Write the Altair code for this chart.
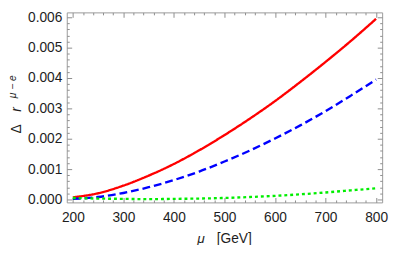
import altair as alt
import pandas as pd

# ---- data ----
mu = [200, 250, 300, 350, 400, 450, 500, 550, 600, 650, 700, 750, 800]
red_vals = [0.00007, 0.000205, 0.000456, 0.000785, 0.00117, 0.00162, 0.00212,
            0.00266, 0.00324, 0.00387, 0.00453, 0.00522, 0.00595]
blue_vals = [0.00002, 0.00008, 0.000214, 0.000403, 0.00064, 0.00092, 0.00125,
             0.00161, 0.00201, 0.00244, 0.00291, 0.00342, 0.00395]
green_vals = [0.00005, 0.00003, 0.00002, 0.00001, 0.00002, 0.00003, 0.00005,
              0.00008, 0.00012, 0.00017, 0.00023, 0.0003, 0.00037]

series_names = ["solid", "dashed", "dotted"]
series_colors = ["#ff0000", "#0000ff", "#00ee00"]
series_dash = [[1, 0], [8, 4], [3, 3]]

x_major = [200, 300, 400, 500, 600, 700, 800]
x_minor = [v for v in range(200, 801, 20) if v % 100 != 0]
y_major = [0.0, 0.001, 0.002, 0.003, 0.004, 0.005, 0.006]
y_minor = [round(i * 0.0002, 4) for i in range(1, 30) if i % 5 != 0]

x_title_sym = ["μ"]
x_title_unit = ["[GeV]"]
y_title_delta = ["Δ"]
y_title_r = ["r"]
y_title_sup = ["μ − e"]

X_DOM = [188, 812]
Y_DOM = [-0.0000968, 0.0061613]

rows = []
for name, vals in zip(series_names, [red_vals, blue_vals, green_vals]):
    for m, v in zip(mu, vals):
        rows.append({"mu": m, "val": v, "series": name})
df = pd.DataFrame(rows)

FONT = "Liberation Sans"
TICK_COLOR = "#8c8c8c"
LABEL_COLOR = "#1e1e1e"


def xenc(axis):
    return alt.X("mu:Q", scale=alt.Scale(domain=X_DOM, nice=False, zero=False), axis=axis)


def yenc(axis):
    return alt.Y("val:Q", scale=alt.Scale(domain=Y_DOM, nice=False, zero=False), axis=axis)


def ax(orient, values, size, labels=False, **kw):
    return alt.Axis(orient=orient, values=values, tickSize=size, offset=-size,
                    domain=False, grid=False, title=None, labels=labels,
                    tickColor=TICK_COLOR, tickWidth=1, **kw)


label_kw = dict(labelFont=FONT, labelFontSize=14, labelColor=LABEL_COLOR, labelFlush=False)

lines = alt.Chart(df).mark_line(strokeWidth=2.4, interpolate="monotone", strokeCap="butt").encode(
    x=xenc(ax("bottom", x_major, 5, labels=True, labelPadding=9, **label_kw)),
    y=yenc(ax("left", y_major, 5, labels=True, labelPadding=5, format=".3f", **label_kw)),
    color=alt.Color("series:N", scale=alt.Scale(domain=series_names, range=series_colors), legend=None),
    strokeDash=alt.StrokeDash("series:N", scale=alt.Scale(domain=series_names, range=series_dash), legend=None),
    detail="series:N",
)

minor = alt.Chart(df).mark_point(opacity=0).encode(
    x=xenc(ax("bottom", x_minor, 2.5)),
    y=yenc(ax("left", y_minor, 2.5)),
)
top_right_major = alt.Chart(df).mark_point(opacity=0).encode(
    x=xenc(ax("top", x_major, 5)),
    y=yenc(ax("right", y_major, 5)),
)
top_right_minor = alt.Chart(df).mark_point(opacity=0).encode(
    x=xenc(ax("top", x_minor, 2.5)),
    y=yenc(ax("right", y_minor, 2.5)),
)


def label(text_list, x, y, size=14, style="normal", angle=0):
    return alt.Chart(pd.DataFrame({"t": text_list})).mark_text(
        font=FONT, fontSize=size, fontStyle=style, color=LABEL_COLOR,
        align="center", baseline="middle", angle=angle,
    ).encode(text="t:N", x=alt.value(x), y=alt.value(y))


texts = [
    label(x_title_sym, 137, 231, style="italic"),
    label(x_title_unit, 171, 231),
    label(y_title_delta, -51, 119, angle=270),
    label(y_title_r, -51, 99, style="italic", angle=270),
    label(y_title_sup, -54.5, 76, size=10.5, style="italic", angle=270),
]

chart = alt.layer(lines, minor, top_right_major, top_right_minor, *texts).resolve_scale(
    x="independent", y="independent"
).properties(
    width=322, height=194,
    autosize=alt.AutoSizeParams(type="none"),
    padding={"left": 60, "top": 2, "right": 8, "bottom": 41},
).configure_view(stroke="#9a9a9a", strokeWidth=1)

chart.save("out.html", embed_options={"renderer": "svg", "actions": False})
